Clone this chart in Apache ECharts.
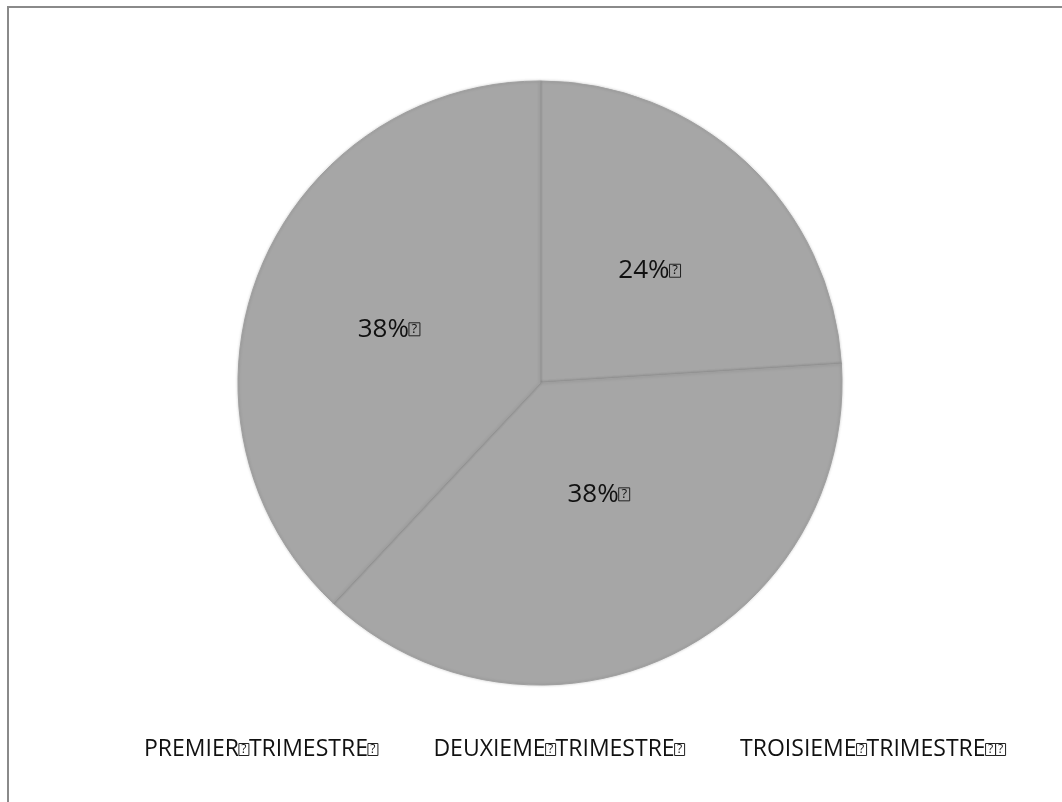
<!DOCTYPE html>
<html>
<head>
<meta charset="utf-8">
<style>
html,body{margin:0;padding:0;background:#fff;}
#chart{width:1062px;height:802px;}
</style>
<script src="https://cdn.jsdelivr.net/npm/echarts@6/dist/echarts.min.js"></script>
</head>
<body>
<div id="chart"></div>
<script>
const BOX = '\u2370';
const categories = ['PREMIER' + BOX + 'TRIMESTRE' + BOX, 'DEUXIEME' + BOX + 'TRIMESTRE' + BOX, 'TROISIEME' + BOX + 'TRIMESTRE' + BOX + BOX];
const values = [24, 38, 38];
const labelTexts = ['24%' + BOX, '38%' + BOX, '38%' + BOX];

const labelOffsets = [[4, 0], [-7, -28], [-8, 3]];
const FONT = '"Open Sans", "DejaVu Sans", sans-serif';

function boxify(s) { return s.split(BOX).join('{q|?}'); }
function qStyle(fs, lh) {
  return { fontFamily: FONT, fontSize: fs, color: '#111', borderColor: '#222', borderWidth: 1, padding: [0, 1, 0, 1], lineHeight: lh, width: Math.round(fs * 0.7), align: 'center' };
}

const chart = echarts.init(document.getElementById('chart'));
chart.setOption({
  animation: false,
  backgroundColor: '#ffffff',
  graphic: [{
    type: 'rect',
    shape: { x: 8, y: 7, width: 1200, height: 1000 },
    style: { fill: 'none', stroke: '#8a8a8a', lineWidth: 2 },
    silent: true
  }],
  legend: {
    bottom: 36,
    left: 134,
    icon: 'none',
    itemWidth: 0,
    itemHeight: 0,
    itemGap: 50,
    data: categories,
    formatter: boxify,
    textStyle: { fontFamily: FONT, fontSize: 23, color: '#111', rich: { q: qStyle(12, 16) } }
  },
  series: [{
    type: 'pie',
    center: [540, 383],
    radius: [0, 302],
    startAngle: 90,
    clockwise: true,
    itemStyle: {
      color: '#a6a6a6',
      borderColor: '#a0a0a0',
      borderWidth: 1,
      shadowBlur: 3,
      shadowColor: 'rgba(0,0,0,0.18)'
    },
    emphasis: { disabled: true },
    labelLine: { show: false },
    data: categories.map((name, i) => ({
      name,
      value: values[i],
      label: {
        show: true,
        position: 'inside',
        formatter: boxify(labelTexts[i]),
        offset: labelOffsets[i],
        fontFamily: FONT,
        fontSize: 26,
        color: '#111',
        rich: { q: qStyle(13, 17) }
      }
    }))
  }]
});
</script>
</body>
</html>
